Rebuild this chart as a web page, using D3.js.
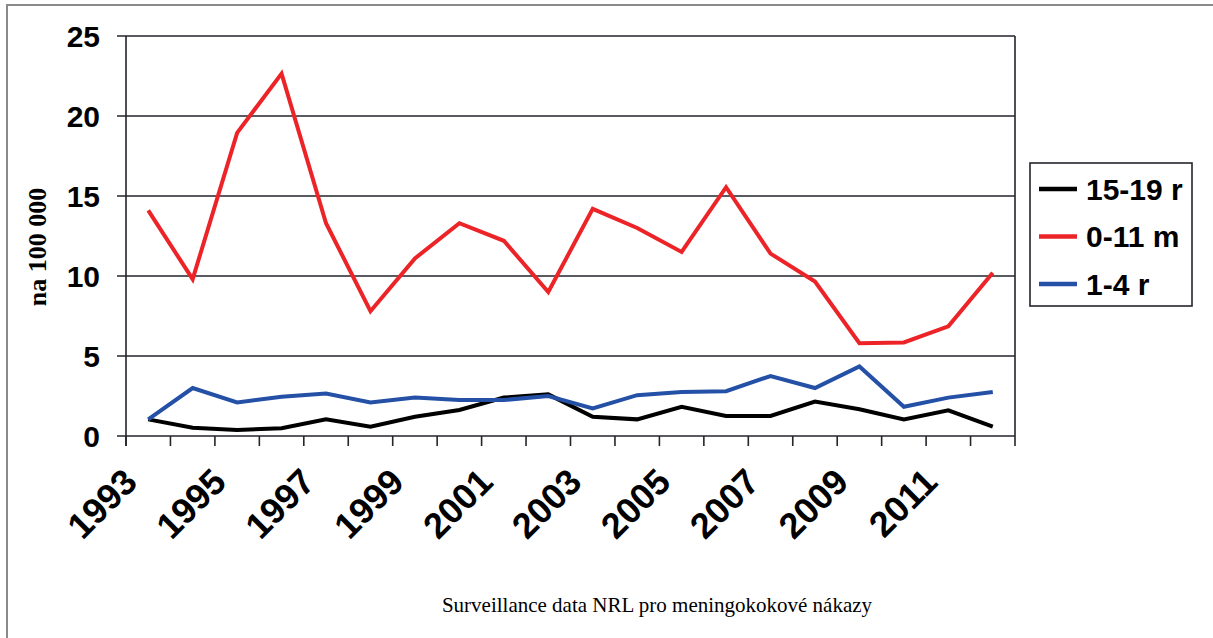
<!DOCTYPE html>
<html>
<head>
<meta charset="utf-8">
<script src="https://cdn.jsdelivr.net/npm/d3@7"></script>
<style>
  html, body { margin: 0; padding: 0; background: #fff; }
  svg { display: block; }
</style>
</head>
<body>
<svg id="chart" width="1213" height="638"></svg>
<script>
const years = [1993,1994,1995,1996,1997,1998,1999,2000,2001,2002,2003,2004,2005,2006,2007,2008,2009,2010,2011,2012];
const tickLabels = [1993,1995,1997,1999,2001,2003,2005,2007,2009,2011];
const yTicks = [0,5,10,15,20,25];
const seriesNames = ["15-19 r", "0-11 m", "1-4 r"];
const seriesColors = ["#000000", "#ec2428", "#2450a6"];
const teen = [1.04,0.52,0.38,0.48,1.04,0.58,1.2,1.63,2.4,2.6,1.2,1.04,1.83,1.25,1.25,2.15,1.67,1.04,1.6,0.58];
const infant = [14.1,9.8,18.95,22.65,13.3,7.8,11.1,13.3,12.2,9.0,14.2,13.0,11.5,15.55,11.4,9.65,5.8,5.85,6.85,10.2];
const toddler = [1.04,3.0,2.1,2.45,2.65,2.1,2.4,2.25,2.25,2.5,1.73,2.55,2.75,2.8,3.75,3.0,4.35,1.83,2.4,2.75];
const caption = "Surveillance data NRL pro meningokokové nákazy";
const yTitle = "na 100 000";

(function () {
const svg = d3.select("#chart");
const pL = 126, pR = 1015, pT = 36, pB = 436;

const x = d3.scaleBand().domain(years).range([pL, pR]).padding(0);
const y = d3.scaleLinear().domain([0, 25]).range([pB, pT]);
const cx = d => x(d) + x.bandwidth() / 2;

// outer frame (top and left visible)
svg.append("line").attr("x1", 6).attr("x2", 1213).attr("y1", 5).attr("y2", 5)
  .attr("stroke", "#8a8a8a").attr("stroke-width", 2);
svg.append("line").attr("x1", 7).attr("x2", 7).attr("y1", 5).attr("y2", 638)
  .attr("stroke", "#8a8a8a").attr("stroke-width", 2);

// gridlines with left ticks
svg.append("g").selectAll("line").data(yTicks).join("line")
  .attr("x1", pL - 9).attr("x2", pR)
  .attr("y1", d => y(d)).attr("y2", d => y(d))
  .attr("stroke", "#23252b").attr("stroke-width", 1.6);

// axis lines
svg.append("line").attr("x1", pL).attr("x2", pL).attr("y1", pT).attr("y2", pB + 10)
  .attr("stroke", "#23252b").attr("stroke-width", 1.6);
svg.append("line").attr("x1", pR).attr("x2", pR).attr("y1", pT).attr("y2", pB)
  .attr("stroke", "#23252b").attr("stroke-width", 1.6);

// x ticks at band boundaries
const boundaries = years.map(d => x(d)).concat([x(years[years.length - 1]) + x.bandwidth()]);
svg.append("g").selectAll("line").data(boundaries).join("line")
  .attr("x1", d => d).attr("x2", d => d).attr("y1", pB).attr("y2", pB + 10)
  .attr("stroke", "#23252b").attr("stroke-width", 1.6);

// y tick labels
svg.append("g").selectAll("text").data(yTicks).join("text")
  .attr("x", 100).attr("y", d => y(d)).attr("dy", "0.36em")
  .attr("text-anchor", "end")
  .attr("font-family", "Liberation Sans, Arial, sans-serif")
  .attr("font-weight", "bold").attr("font-size", 30)
  .text(d => d);

// x tick labels
svg.append("g").selectAll("text").data(tickLabels).join("text")
  .attr("transform", d => `translate(${cx(d) - 9},${pB + 48}) rotate(-45)`)
  .attr("text-anchor", "end")
  .attr("font-family", "Liberation Sans, Arial, sans-serif")
  .attr("font-weight", "bold").attr("font-size", 36)
  .text(d => d);

// y axis title
svg.append("text")
  .attr("transform", `translate(46,247) rotate(-90)`)
  .attr("text-anchor", "middle")
  .attr("font-family", "Liberation Serif, Times New Roman, serif")
  .attr("font-weight", "bold").attr("font-size", 26)
  .text(yTitle);

// lines
const line = d3.line().x((d, i) => cx(years[i])).y(d => y(d));
const allSeries = [teen, infant, toddler];
[1, 0, 2].forEach(k => {
  svg.append("path").datum(allSeries[k])
    .attr("d", line)
    .attr("fill", "none")
    .attr("stroke", seriesColors[k])
    .attr("stroke-width", 4)
    .attr("stroke-linejoin", "miter");
});

// legend
const lg = svg.append("g");
lg.append("rect").attr("x", 1030).attr("y", 163).attr("width", 162).attr("height", 143)
  .attr("fill", "#fff").attr("stroke", "#23252b").attr("stroke-width", 1.6);
const ly = [189, 236.5, 284];
seriesNames.forEach((n, i) => {
  lg.append("line").attr("x1", 1039).attr("x2", 1077).attr("y1", ly[i]).attr("y2", ly[i])
    .attr("stroke", seriesColors[i]).attr("stroke-width", 4.5);
  lg.append("text").attr("x", 1086).attr("y", ly[i]).attr("dy", "0.36em")
    .attr("font-family", "Liberation Sans, Arial, sans-serif")
    .attr("font-weight", "bold").attr("font-size", 30)
    .text(n);
});

// caption
svg.append("text").attr("x", 657).attr("y", 612).attr("text-anchor", "middle")
  .attr("font-family", "Liberation Serif, Times New Roman, serif")
  .attr("font-size", 21)
  .text(caption);
})();
</script>
</body>
</html>
